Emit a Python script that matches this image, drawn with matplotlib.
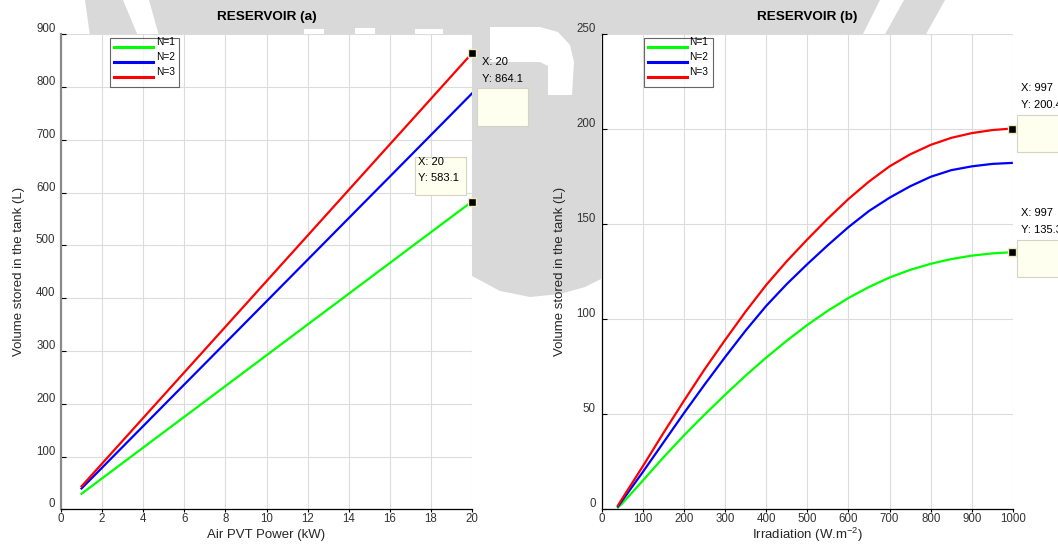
import matplotlib
matplotlib.use("Agg")
import matplotlib.pyplot as plt
from matplotlib.patches import Polygon, Rectangle
from matplotlib.transforms import ScaledTranslation

plt.rcParams['font.family'] = ['Liberation Sans', 'DejaVu Sans']
plt.rcParams['mathtext.fontset'] = 'custom'
plt.rcParams['mathtext.rm'] = 'Liberation Sans'
plt.rcParams['mathtext.it'] = 'Liberation Sans'

# --- reservoir (a): stored volume vs air PVT power ---
power_kw = [1, 2, 3, 4, 5, 6, 7, 8, 9, 10, 11, 12, 13, 14, 15, 16, 17, 18, 19, 20]
vol_a_n1 = [29.5, 58.6, 87.8, 116.9, 146.1, 175.2, 204.3, 233.5, 262.6, 291.8,
            320.9, 350.1, 379.2, 408.3, 437.5, 466.6, 495.8, 524.9, 554.0, 583.1]
vol_a_n2 = [39.5, 78.9, 118.3, 157.7, 197.1, 236.5, 275.8, 315.2, 354.6, 394.0,
            433.4, 472.8, 512.2, 551.6, 591.0, 630.3, 669.7, 709.1, 748.5, 788.0]
vol_a_n3 = [43.5, 86.7, 129.9, 173.1, 216.3, 259.5, 302.6, 345.8, 389.0, 432.2,
            475.4, 518.6, 561.8, 605.0, 648.2, 691.4, 734.5, 777.7, 820.9, 864.1]

# --- reservoir (b): stored volume vs irradiation ---
irradiation = [40, 50, 100, 150, 200, 250, 300, 350, 400, 450, 500,
               550, 600, 650, 700, 750, 800, 850, 900, 950, 997]
vol_b_n1 = [1.0, 3.0, 15.0, 27.2, 38.8, 49.7, 60.2, 70.3, 79.8, 88.7, 97.0,
            104.5, 111.2, 117.0, 122.0, 126.0, 129.2, 131.7, 133.5, 134.7, 135.3]
vol_b_n2 = [1.5, 4.5, 19.5, 35.0, 50.5, 65.5, 80.0, 94.0, 107.0, 118.5, 129.0,
            139.0, 148.5, 157.0, 164.0, 170.0, 175.0, 178.5, 180.5, 181.8, 182.3]
vol_b_n3 = [2.0, 5.5, 22.5, 40.0, 57.0, 73.5, 89.0, 104.0, 118.0, 130.5, 142.0,
            153.0, 163.3, 172.5, 180.5, 186.8, 191.8, 195.5, 198.0, 199.6, 200.4]

labels = ['N=1', 'N=2', 'N=3']
colors = ['#00ff00', '#0000ff', '#ff0000']

W, H, DPI = 1058, 544, 100
fig = plt.figure(figsize=(W / DPI, H / DPI), dpi=DPI)
fig.patch.set_facecolor('white')


def px(points):
    # pixel coords (origin top-left) -> figure fraction
    return [(x / W, 1 - y / H) for x, y in points]


# faint logo watermark behind the axes
wm = '#d9d9d9'
for poly, fc in [
    ([(85, 0), (123, 0), (138, 36), (90, 36)], wm),
    ([(149, 0), (880, 0), (862, 36), (601, 36), (601, 279), (585, 287),
      (560, 294), (530, 297), (500, 291), (472, 276), (472, 36), (159, 36)], wm),
    ([(904, 0), (945, 0), (925, 36), (884, 36)], wm),
    ([(490, 27), (540, 27), (558, 32), (570, 45), (574, 62), (572, 95),
      (548, 95), (548, 66), (540, 62), (490, 62)], 'white'),
    ([(304, 29), (324, 29), (324, 36), (304, 36)], 'white'),
    ([(355, 28), (375, 28), (375, 36), (355, 36)], 'white'),
    ([(415, 29), (443, 29), (443, 36), (415, 36)], 'white'),
]:
    fig.add_artist(Polygon(px(poly), closed=True, transform=fig.transFigure,
                           facecolor=fc, edgecolor='none', zorder=-5))

ax_a = fig.add_axes([61 / W, (H - 509.3) / H, 411 / W, 475 / H])
ax_b = fig.add_axes([601.5 / W, (H - 509.3) / H, 411.5 / W, 475 / H])


def style_axes(ax, xlim, ylim, xticks, yticks, left_color, left_lw):
    ax.set_xlim(*xlim)
    ax.set_ylim(*ylim)
    ax.set_xticks(xticks)
    ax.set_yticks(yticks)
    ax.grid(True, color='#dcdcdc', lw=0.8)
    ax.set_axisbelow(True)
    for s in ('top', 'right'):
        ax.spines[s].set_visible(False)
    ax.spines['left'].set_color(left_color)
    ax.spines['left'].set_linewidth(left_lw)
    ax.spines['bottom'].set_linewidth(0.9)
    ax.tick_params(axis='y', direction='in', length=3.6, width=0.8,
                   labelsize=8.3, labelcolor='#333333', pad=4)
    ax.tick_params(axis='x', direction='out', length=2.5, width=0.8,
                   labelsize=8.3, labelcolor='#333333', pad=0.5)
    shift = ScaledTranslation(0, 6.5 / DPI, fig.dpi_scale_trans)
    for lab in ax.get_yticklabels():
        lab.set_transform(lab.get_transform() + shift)


def datatip(ax, x, y, text_off, box):
    ax.plot([x], [y], 's', color='black', ms=6, mec='#efe9bd', mew=1,
            clip_on=False, zorder=7)
    for txt, (dx, dy) in zip([f'X: {x:g}', f'Y: {y:.1f}'], text_off):
        ax.annotate(txt, (x, y), xytext=(dx, dy), textcoords='offset pixels',
                    ha='left', va='center', fontsize=8, color='black',
                    annotation_clip=False, zorder=8)
    bx, by, bw, bh = box
    tr = fig.dpi_scale_trans + ScaledTranslation(x, y, ax.transData)
    ax.add_artist(Rectangle((bx / DPI, (by - bh) / DPI), bw / DPI, bh / DPI,
                            transform=tr, facecolor='#fffff0', edgecolor='#d4d4c4',
                            lw=0.8, clip_on=False, zorder=6))


# ---------------- RESERVOIR (a) ----------------
for vals, lab, c in zip([vol_a_n1, vol_a_n2, vol_a_n3], labels, colors):
    ax_a.plot(power_kw, vals, color=c, lw=1.6, label=lab)
style_axes(ax_a, (0, 20), (0, 900), range(0, 21, 2), range(0, 901, 100),
           '#8a8a8a', 1.6)
ax_a.set_title('RESERVOIR (a)', fontsize=9.7, fontweight='bold', pad=10)
ax_a.set_xlabel('Air PVT Power (kW)', fontsize=9.5, color='#262626')
ax_a.set_ylabel('Volume stored in the tank (L)', fontsize=9.5, color='#262626')
ax_a.xaxis.set_label_coords(0.5, -0.041)
ax_a.yaxis.set_label_coords(-0.088, 0.5)

datatip(ax_a, power_kw[-1], vol_a_n3[-1],
        [(9.5, -8.7), (9.5, -25.7)], (5, -34.7, 51, 38))
datatip(ax_a, power_kw[-1], vol_a_n1[-1],
        [(-53.5, 39.6), (-53.5, 23.5)], (-57.2, 44.6, 51, 37.6))

# ---------------- RESERVOIR (b) ----------------
for vals, lab, c in zip([vol_b_n1, vol_b_n2, vol_b_n3], labels, colors):
    ax_b.plot(irradiation, vals, color=c, lw=1.6, label=lab)
style_axes(ax_b, (0, 1000), (0, 250), range(0, 1001, 100), range(0, 251, 50),
           'black', 0.9)
ax_b.set_title('RESERVOIR (b)', fontsize=9.7, fontweight='bold', pad=10)
ax_b.set_xlabel('Irradiation (W.m$^{-2}$)', fontsize=9.5, color='#262626')
ax_b.set_ylabel('Volume stored in the tank (L)', fontsize=9.5, color='#262626')
ax_b.xaxis.set_label_coords(0.5, -0.034)
ax_b.yaxis.set_label_coords(-0.086, 0.5)

datatip(ax_b, irradiation[-1], vol_b_n3[-1],
        [(9, 41), (9, 24)], (5, 13.5, 60, 37))
datatip(ax_b, irradiation[-1], vol_b_n1[-1],
        [(9, 39.2), (9, 22.2)], (5, 12.2, 60, 37))

for ax, x0 in [(ax_a, 0.119), (ax_b, 0.103)]:
    leg = ax.legend(loc='upper left', bbox_to_anchor=(x0, 0.993), fontsize=7.3,
                    frameon=True, fancybox=False, borderpad=0.45,
                    handlelength=3.76, handletextpad=0.3, labelspacing=0.5,
                    borderaxespad=0)
    leg.get_frame().set_edgecolor('#404040')
    leg.get_frame().set_linewidth(0.8)
    for line in leg.get_lines():
        line.set_linewidth(2.2)
    for t in leg.get_texts():
        t.set_y(5)

fig.savefig('out.png', dpi=DPI)
